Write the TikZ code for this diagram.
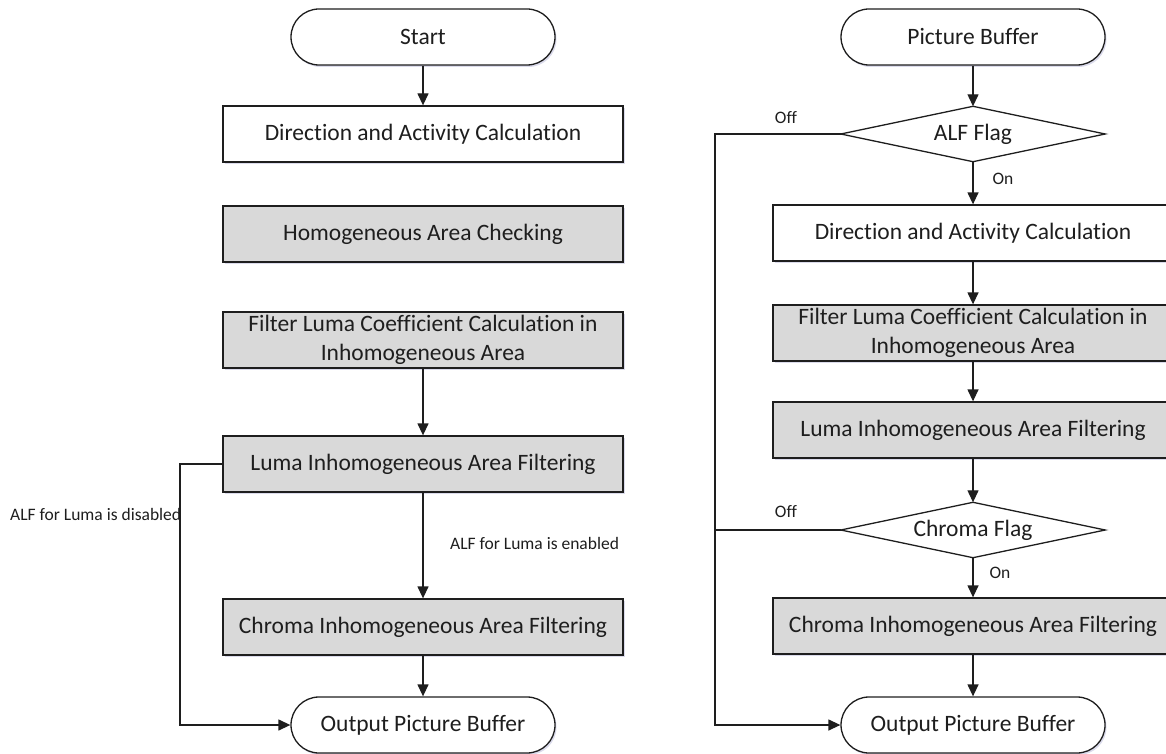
\documentclass[tikz,border=0pt]{standalone}
\usepackage{fontspec}
\setmainfont{Carlito}[Ligatures=NoCommon]
\usetikzlibrary{arrows.meta,shadows}
\definecolor{boxgray}{HTML}{D9D9D9}
\definecolor{ink}{HTML}{1E1E1E}
\tikzset{
  base/.style={draw=ink,line width=1.3pt,text=ink,inner sep=0pt,font=\fontsize{23.5}{29}\selectfont,align=center,
    drop shadow={shadow xshift=1.5pt,shadow yshift=-2pt,fill=blue!30!gray,opacity=0.22}},
  term/.style={base,rectangle,rounded corners=28pt,minimum width=264pt,minimum height=56pt,fill=white},
  procw/.style={base,rectangle,minimum width=400pt,minimum height=56pt,fill=white},
  procg/.style={base,rectangle,minimum width=400pt,minimum height=56pt,fill=boxgray},
  decis/.style={text=ink,inner sep=0pt,font=\fontsize{23.5}{29}\selectfont,rectangle,minimum width=264pt,minimum height=55pt},
  diamline/.style={draw=ink,line width=1.3pt,fill=white,line join=miter},
  conn/.style={draw=ink,line width=1.3pt,-{Triangle[width=11pt,length=12pt]}},
  plain/.style={draw=ink,line width=1.3pt},
  lbl/.style={text=ink,inner sep=0pt,font=\fontsize{17.5}{20}\selectfont},
}
\begin{document}
\begin{tikzpicture}[x=1pt,y=-1pt]
\useasboundingbox (0,0) rectangle (1166,754);
% left column
\node[term]  (start)   at (423,37)  {Start};
\node[procw] (dirL)    at (423,134) {Direction and Activity Calculation};
\node[procg] (homo)    at (423,234) {Homogeneous Area Checking};
\node[procg] (filtL)   at (423,340) {Filter Luma Coefficient Calculation in\\Inhomogeneous Area};
\node[procg] (lumaL)   at (423,464) {Luma Inhomogeneous Area Filtering};
\node[procg] (chromaL) at (423,627) {Chroma Inhomogeneous Area Filtering};
\node[term]  (outL)    at (423,725) {Output Picture Buffer};
\coordinate (byL) at (180,0);
\draw[conn] (start) -- (dirL);
\draw[conn] (filtL) -- (lumaL);
\draw[conn] (lumaL) -- (chromaL);
\draw[conn] (chromaL) -- (outL);
\draw[conn] (lumaL.west) -- (byL |- lumaL.west) |- (outL.west);
\node[lbl,anchor=west] (disL) at (10,514) {ALF for Luma is disabled};
\node[lbl,anchor=west] (enL) at (450,543) {ALF for Luma is enabled};
% right column
\node[term]  (pb)      at (973,37)  {Picture Buffer};
\node[decis] (alf)     at (973,134) {};
\draw[diamline] (alf.west) -- (alf.north) -- (alf.east) -- (alf.south) -- cycle;
\node[decis] (alftxt)  at (973,134) {ALF Flag};
\node[procw] (dirR)    at (973,233) {Direction and Activity Calculation};
\node[procg] (filtR)   at (973,333) {Filter Luma Coefficient Calculation in\\Inhomogeneous Area};
\node[procg] (lumaR)   at (973,430) {Luma Inhomogeneous Area Filtering};
\node[decis] (cflag)   at (973,530) {};
\draw[diamline] (cflag.west) -- (cflag.north) -- (cflag.east) -- (cflag.south) -- cycle;
\node[decis] (cftxt)   at (973,530) {Chroma Flag};
\node[procg] (chromaR) at (973,626) {Chroma Inhomogeneous Area Filtering};
\node[term]  (outR)    at (973,725) {Output Picture Buffer};
\coordinate (byR) at (715,0);
\draw[conn] (pb) -- (alf.north);
\draw[conn] (alf.south) -- (dirR);
\draw[conn] (dirR) -- (filtR);
\draw[conn] (filtR) -- (lumaR);
\draw[conn] (lumaR) -- (cflag.north);
\draw[conn] (cflag.south) -- (chromaR);
\draw[conn] (chromaR) -- (outR);
\draw[conn] (alf.west) -- (byR |- alf.west) |- (outR.west);
\draw[plain] (cflag.west) -- (byR |- cflag.west);
\node[lbl] (off1) at (786,118) {Off};
\node[lbl] (on1)  at (1003,179) {On};
\node[lbl] (off2) at (786,512) {Off};
\node[lbl] (on2)  at (1000,573) {On};
\end{tikzpicture}
\end{document}
